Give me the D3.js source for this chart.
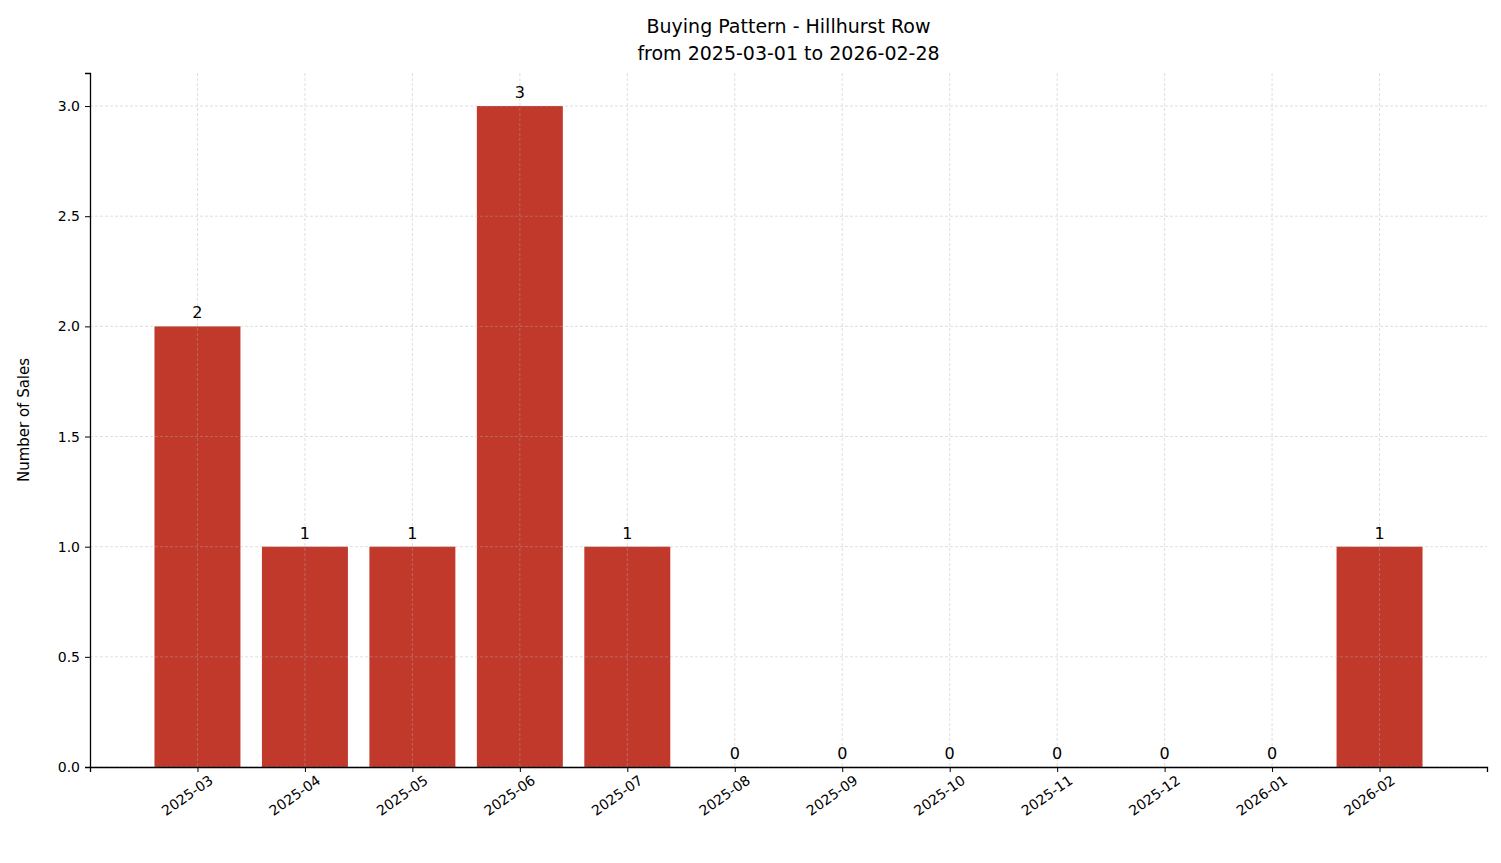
<!DOCTYPE html>
<html>
<head>
<meta charset="utf-8">
<script src="https://cdn.jsdelivr.net/npm/d3@7"></script>
<style>
  body { margin: 0; background: #fff; }
  text { font-family: "DejaVu Sans", sans-serif; fill: #000; }
</style>
</head>
<body>
<div id="chart"></div>
<script>
// data
var months = ["2025-03", "2025-04", "2025-05", "2025-06", "2025-07", "2025-08",
              "2025-09", "2025-10", "2025-11", "2025-12", "2026-01", "2026-02"];
var sales = [2, 1, 1, 3, 1, 0, 0, 0, 0, 0, 0, 1];
var yTicks = [0, 0.5, 1.0, 1.5, 2.0, 2.5, 3.0];

var width = 1501, height = 863;
var margin = { top: 73, right: 14, bottom: 96, left: 90 };
var chartWidth = width - margin.left - margin.right;
var chartHeight = height - margin.top - margin.bottom;

var svg = d3.select("#chart").append("svg")
    .attr("width", width)
    .attr("height", height);

var chartGroup = svg.append("g")
    .attr("transform", `translate(${margin.left}, ${margin.top})`);

// linear x so that the matplotlib-style margins match (-1 .. 12)
var xScale = d3.scaleLinear().domain([-1, months.length]).range([0, chartWidth]);
var yScale = d3.scaleLinear().domain([0, 3.15]).range([chartHeight, 0]);
var step = xScale(1) - xScale(0);
var barW = step * 0.8;

// bars
chartGroup.selectAll(".bar")
    .data(sales)
    .enter()
    .append("rect")
    .attr("x", (d, i) => xScale(i) - barW / 2)
    .attr("y", d => yScale(d))
    .attr("width", barW)
    .attr("height", d => chartHeight - yScale(d))
    .attr("fill", "#c0392b");

// grid (drawn over bars)
var grid = chartGroup.append("g");
grid.selectAll(".hg").data(yTicks).enter().append("line")
    .attr("x1", 0).attr("x2", chartWidth)
    .attr("y1", d => yScale(d)).attr("y2", d => yScale(d))
    .attr("stroke", "#b0b0b0").attr("stroke-opacity", 0.5)
    .attr("stroke-dasharray", "3,2").attr("stroke-width", 0.8);
grid.selectAll(".vg").data(months).enter().append("line")
    .attr("y1", 0).attr("y2", chartHeight)
    .attr("x1", (d, i) => xScale(i)).attr("x2", (d, i) => xScale(i))
    .attr("stroke", "#b0b0b0").attr("stroke-opacity", 0.5)
    .attr("stroke-dasharray", "3,2").attr("stroke-width", 0.8);

// value labels
chartGroup.selectAll(".lbl")
    .data(sales)
    .enter()
    .append("text")
    .attr("x", (d, i) => xScale(i))
    .attr("y", d => yScale(d) - 8)
    .attr("text-anchor", "middle")
    .style("font-size", "16px")
    .text(d => d);

// axes
var yAxis = d3.axisLeft(yScale).tickValues(yTicks).tickFormat(d3.format(".1f")).tickSizeOuter(0).tickSize(5);
var xAxis = d3.axisBottom(xScale).tickValues(d3.range(months.length))
    .tickFormat(i => months[i]).tickSizeOuter(0).tickSize(5);

var yg = chartGroup.append("g").call(yAxis);
yg.selectAll("text").style("font-size", "14px").attr("dx", "-2");

var xg = chartGroup.append("g")
    .attr("transform", `translate(0, ${chartHeight})`)
    .call(xAxis);
xg.selectAll("text")
    .style("font-size", "14px")
    .attr("text-anchor", "end")
    .attr("dx", "0.3em")
    .attr("dy", "1.0em")
    .attr("transform", "rotate(-35)");

[yg, xg].forEach(g => {
  g.select(".domain").attr("stroke", "#000").attr("stroke-width", 1.3);
  g.selectAll(".tick line").attr("stroke", "#000");
});

// titles
svg.append("text")
    .attr("x", margin.left + chartWidth / 2).attr("y", 33)
    .attr("text-anchor", "middle").style("font-size", "19px")
    .text("Buying Pattern - Hillhurst Row");
svg.append("text")
    .attr("x", margin.left + chartWidth / 2).attr("y", 60)
    .attr("text-anchor", "middle").style("font-size", "19px")
    .text("from 2025-03-01 to 2026-02-28");

svg.append("text")
    .attr("transform", "rotate(-90)")
    .attr("x", -(margin.top + chartHeight / 2)).attr("y", 29)
    .attr("text-anchor", "middle").style("font-size", "15px")
    .text("Number of Sales");
</script>
</body>
</html>
